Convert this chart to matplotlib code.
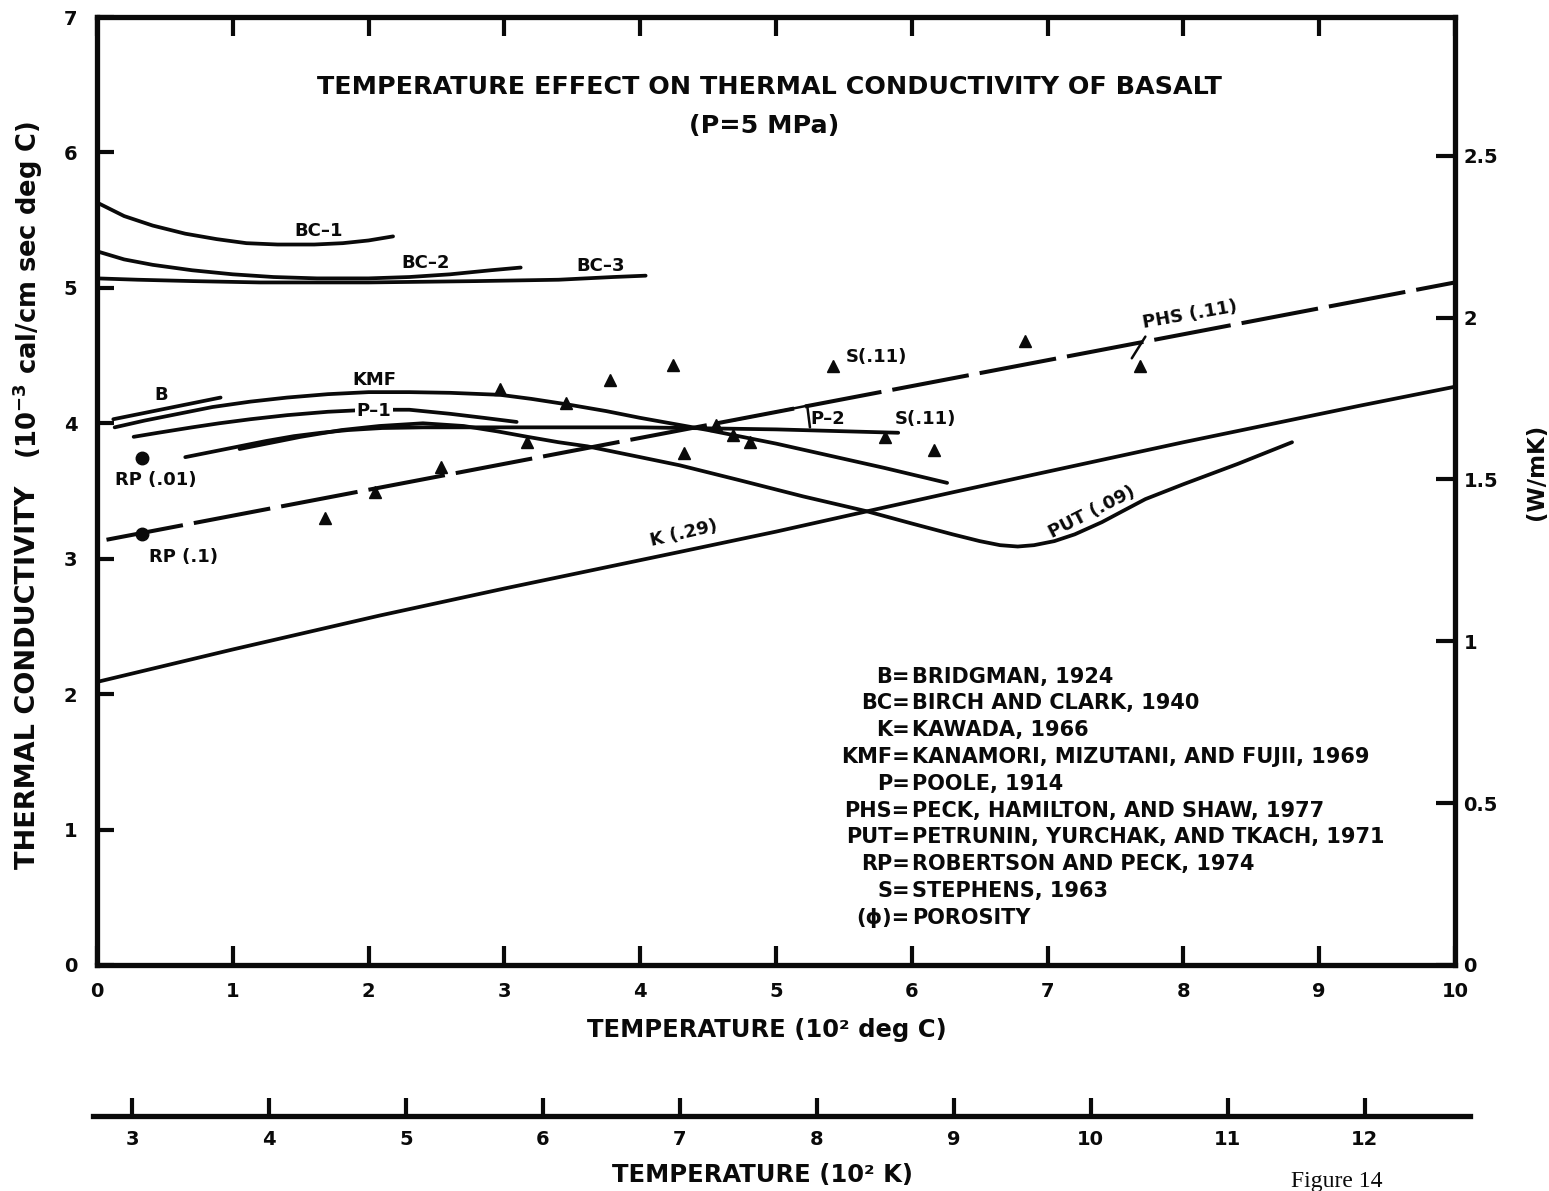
import matplotlib
matplotlib.use("Agg")
import matplotlib.pyplot as plt

plt.rcParams.update({
    "font.family": "DejaVu Sans",
    "font.weight": "bold",
    "lines.scale_dashes": False,
    "lines.solid_capstyle": "round",
    "lines.solid_joinstyle": "round",
})

W, H = 1549, 1191
INK = "#0a0a0a"

# ---- curves: temperature (10^2 deg C) vs conductivity (10^-3 cal/cm sec deg C)
bc1_t = [0.0, 0.2, 0.41, 0.65, 0.88, 1.1, 1.33, 1.6, 1.81, 2.0, 2.18]
bc1_k = [5.63, 5.53, 5.46, 5.40, 5.36, 5.33, 5.32, 5.32, 5.33, 5.35, 5.38]

bc2_t = [0.0, 0.2, 0.41, 0.7, 1.0, 1.3, 1.62, 2.0, 2.3, 2.6, 2.9, 3.12]
bc2_k = [5.27, 5.21, 5.17, 5.13, 5.10, 5.08, 5.07, 5.07, 5.08, 5.10, 5.13, 5.15]

bc3_t = [0.0, 0.3, 0.7, 1.2, 2.0, 2.8, 3.4, 3.8, 4.04]
bc3_k = [5.07, 5.06, 5.05, 5.04, 5.04, 5.05, 5.06, 5.08, 5.09]

b_t = [0.12, 0.91]
b_k = [4.03, 4.19]

kmf_t = [0.13, 0.35, 0.6, 0.85, 1.13, 1.4, 1.7, 2.0, 2.3, 2.6, 2.97, 3.2,
         3.46, 3.75, 4.0, 4.5, 5.0, 5.4, 5.8, 6.26]
kmf_k = [3.97, 4.02, 4.07, 4.12, 4.16, 4.19, 4.215, 4.23, 4.23, 4.225, 4.21,
         4.18, 4.14, 4.09, 4.04, 3.95, 3.85, 3.76, 3.67, 3.56]

p1_t = [0.27, 0.45, 0.7, 0.9, 1.13, 1.4, 1.7, 2.0, 2.3, 2.6, 2.85, 3.09]
p1_k = [3.90, 3.93, 3.97, 4.00, 4.03, 4.06, 4.085, 4.10, 4.10, 4.07, 4.04, 4.01]

p2_t = [0.65, 0.85, 1.05, 1.25, 1.45, 1.65, 1.85, 2.1, 2.4, 3.0, 4.0, 5.0, 5.9]
p2_k = [3.75, 3.79, 3.83, 3.87, 3.905, 3.93, 3.95, 3.965, 3.97, 3.97, 3.97,
        3.955, 3.93]

put_t = [1.05, 1.25, 1.5, 1.8, 2.08, 2.4, 2.7, 2.95, 3.17, 3.4, 3.61, 4.0,
         4.29, 4.73, 5.2, 5.67, 6.0, 6.3, 6.5, 6.65, 6.78, 6.9, 7.05, 7.2,
         7.4, 7.55, 7.72, 8.0, 8.4, 8.8]
put_k = [3.81, 3.85, 3.90, 3.95, 3.98, 4.00, 3.98, 3.94, 3.90, 3.86, 3.83,
         3.75, 3.69, 3.58, 3.46, 3.35, 3.26, 3.18, 3.13, 3.10, 3.09, 3.10,
         3.13, 3.18, 3.27, 3.35, 3.44, 3.55, 3.70, 3.86]

k_t = [0.0, 1.0, 2.08, 3.0, 4.29, 5.0, 5.67, 6.3, 6.94, 8.0, 9.3, 10.0]
k_k = [2.09, 2.33, 2.58, 2.78, 3.05, 3.20, 3.35, 3.49, 3.63, 3.86, 4.13, 4.27]

phs_t = [0.07, 10.0]
phs_k = [3.14, 5.04]

# Robertson and Peck single values
rp_t = [0.33, 0.33]
rp_k = [3.74, 3.18]

# Stephens measurements
s_t = [1.68, 2.05, 2.53, 2.97, 3.17, 3.45, 3.78, 4.24, 4.32, 4.56, 4.68,
       4.81, 5.42, 5.80, 6.16, 6.83, 7.68]
s_k = [3.30, 3.49, 3.68, 4.25, 3.86, 4.15, 4.32, 4.43, 3.78, 3.99, 3.91,
       3.86, 4.42, 3.90, 3.80, 4.61, 4.42]

# ---- axis ticks
y_ticks = [0, 1, 2, 3, 4, 5, 6, 7]
x_ticks = [0, 1, 2, 3, 4, 5, 6, 7, 8, 9, 10]
w_ticks = [0, 0.5, 1, 1.5, 2, 2.5]
w_labels = ["0", "0.5", "1", "1.5", "2", "2.5"]
kelvin_ticks = [3, 4, 5, 6, 7, 8, 9, 10, 11, 12]
CAL_TO_WMK = 0.4184

legend_keys = ["B", "BC", "K", "KMF", "P", "PHS", "PUT", "RP", "S", "(\u03d5)"]
legend_names = ["BRIDGMAN, 1924", "BIRCH AND CLARK, 1940", "KAWADA, 1966",
                "KANAMORI, MIZUTANI, AND FUJII, 1969", "POOLE, 1914",
                "PECK, HAMILTON, AND SHAW, 1977",
                "PETRUNIN, YURCHAK, AND TKACH, 1971",
                "ROBERTSON AND PECK, 1974", "STEPHENS, 1963", "POROSITY"]


def fig_xy(x, y):
    return x / W, 1 - y / H


fig = plt.figure(figsize=(W / 100, H / 100), dpi=100)
fig.patch.set_facecolor("white")

left, right, top, bottom = 97, 1455, 17, 965
ax = fig.add_axes([left / W, 1 - bottom / H, (right - left) / W, (bottom - top) / H])
ax.set_xlim(0, 10)
ax.set_ylim(0, 7)
for sp in ax.spines.values():
    sp.set_linewidth(3.8)
    sp.set_color(INK)

ax.set_xticks(x_ticks)
ax.set_yticks(y_ticks)
ax.set_xticklabels([str(v) for v in x_ticks])
ax.set_yticklabels([str(v) for v in y_ticks])
ax.tick_params(axis="x", which="both", direction="in", length=14, width=3,
               top=True, labeltop=False, pad=12, labelsize=14, colors=INK)
ax.tick_params(axis="y", direction="in", length=12, width=3, pad=14,
               labelsize=14, colors=INK)

ax2 = ax.twinx()
ax2.set_ylim(0, 7 * CAL_TO_WMK)
ax2.set_yticks(w_ticks)
ax2.set_yticklabels(w_labels)
ax2.tick_params(axis="y", direction="in", length=14, width=3, pad=6,
                labelsize=14, colors=INK)
for sp in ax2.spines.values():
    sp.set_visible(False)

lw = 2.7
for t, k in [(bc1_t, bc1_k), (bc2_t, bc2_k), (bc3_t, bc3_k), (b_t, b_k),
             (kmf_t, kmf_k), (p1_t, p1_k), (p2_t, p2_k), (put_t, put_k),
             (k_t, k_k)]:
    ax.plot(t, k, color=INK, lw=lw, zorder=3)

ax.plot(phs_t, phs_k, color=INK, lw=2.9, dashes=(56, 8), dash_capstyle="butt",
        zorder=3)

ax.plot(s_t, s_k, linestyle="none", marker="^", ms=9, color=INK, zorder=4)
ax.plot(rp_t, rp_k, linestyle="none", marker="o", ms=9, color=INK, zorder=4)

lab = dict(ha="center", va="center", fontsize=13, color=INK, zorder=5)
ax.text(1.63, 5.42, "BC\u20131", **lab)
ax.text(2.42, 5.18, "BC\u20132", **lab)
ax.text(3.71, 5.16, "BC\u20133", **lab)
ax.text(2.04, 4.32, "KMF", **lab)
ax.text(0.47, 4.21, "B", **lab)
ax.text(2.04, 4.09, "P\u20131",
        bbox=dict(facecolor="white", edgecolor="none", pad=1.0), **lab)
ax.text(0.43, 3.58, "RP (.01)", **lab)
ax.text(0.64, 3.01, "RP (.1)", **lab)
ax.text(4.32, 3.19, "K (.29)", rotation=13, **lab)
ax.text(7.33, 3.34, "PUT (.09)", rotation=27, **lab)
ax.text(8.05, 4.80, "PHS (.11)", rotation=10, **lab)
ax.text(5.74, 4.49, "S(.11)", **lab)
ax.text(6.10, 4.03, "S(.11)", **lab)
ax.text(5.38, 4.03, "P\u20132", **lab)

# leader strokes
seg = dict(arrowstyle="-", color=INK, lw=1.8, shrinkA=0, shrinkB=0)
ax.annotate("", xy=(4.68, 4.02), xytext=(5.23, 4.13), arrowprops=seg)
ax.annotate("", xy=(5.25, 3.97), xytext=(5.23, 4.13), arrowprops=seg)
ax.annotate("", xy=(7.62, 4.48), xytext=(7.72, 4.64), arrowprops=seg)

# key to the abbreviations
for i, (key, name) in enumerate(zip(legend_keys, legend_names)):
    y = 2.13 - i * 0.198
    ax.text(5.985, y, key + "=", ha="right", va="center", fontsize=15, color=INK)
    ax.text(6.0, y, name, ha="left", va="center", fontsize=15, color=INK)

# titles and axis labels
fig.text(*fig_xy(769, 87), "TEMPERATURE EFFECT ON THERMAL CONDUCTIVITY OF BASALT",
         ha="center", va="center", fontsize=18.3, color=INK)
fig.text(*fig_xy(764, 126), "(P=5 MPa)", ha="center", va="center",
         fontsize=18.3, color=INK)
fig.text(*fig_xy(28, 677), "THERMAL CONDUCTIVITY", rotation=90,
         ha="center", va="center", fontsize=19.5, color=INK)
fig.text(*fig_xy(28, 290), "(10$^{\\mathbf{-3}}$ cal/cm sec deg C)", rotation=90,
         ha="center", va="center", fontsize=18.5, color=INK)
fig.text(*fig_xy(1537, 472), "(W/mK)", rotation=90, ha="center", va="center",
         fontsize=16.5, color=INK)
fig.text(*fig_xy(767, 1030), "TEMPERATURE (10\u00b2 deg C)", ha="center",
         va="center", fontsize=17.5, color=INK)

# Kelvin scale underneath
k_left, k_right, k_y = 93, 1470, 1116
axk = fig.add_axes([k_left / W, 1 - k_y / H, (k_right - k_left) / W, 0.0005])
axk.set_xlim(2.715, 12.77)
axk.set_xticks(kelvin_ticks)
axk.set_xticklabels([str(v) for v in kelvin_ticks])
axk.set_yticks([])
axk.patch.set_visible(False)
for s in ["top", "left", "right"]:
    axk.spines[s].set_visible(False)
axk.spines["bottom"].set_linewidth(3.8)
axk.spines["bottom"].set_color(INK)
axk.tick_params(axis="x", direction="in", length=13, width=3, pad=10,
                labelsize=14, colors=INK)

fig.text(*fig_xy(763, 1175), "TEMPERATURE (10\u00b2 K)", ha="center",
         va="center", fontsize=17.5, color=INK)
fig.text(*fig_xy(1337, 1171), "Figure 14", ha="center", va="top",
         fontsize=17, fontweight="normal", family="Liberation Serif", color=INK)

fig.savefig("out.png", dpi=100, facecolor="white")
